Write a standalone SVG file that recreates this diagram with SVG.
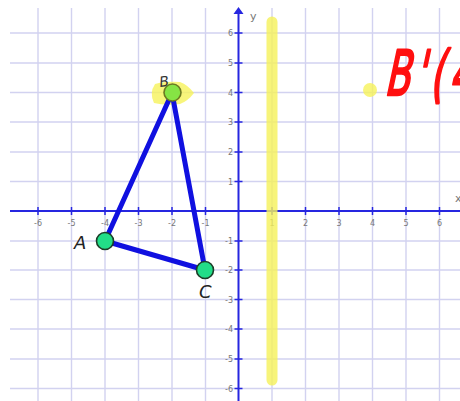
<svg xmlns="http://www.w3.org/2000/svg" width="460" height="401" viewBox="0 0 460 401">
<defs>
<style>
.grid line{stroke:#d2d2f0;stroke-width:1.4}
.axis{stroke:#2626e0;stroke-width:2}
.tick{stroke:#2626e0;stroke-width:1.5}
.tl{font-family:"DejaVu Sans",sans-serif;font-size:8px;fill:#777}
.edge{stroke:#1010e0;stroke-width:5;stroke-linecap:round}
.pt{fill:#22dd88;stroke:#1c3d28;stroke-width:1.6}
.lbl{font-family:"DejaVu Sans",sans-serif;font-size:18px;fill:#222;font-style:italic}
.hl{fill:#f6f25a;opacity:0.8}
</style>
</defs>
<rect width="460" height="401" fill="#fff"/>
<g class="grid">
<line x1="38" y1="8" x2="38" y2="401"/>
<line x1="71.5" y1="8" x2="71.5" y2="401"/>
<line x1="105" y1="8" x2="105" y2="401"/>
<line x1="138.5" y1="8" x2="138.5" y2="401"/>
<line x1="172" y1="8" x2="172" y2="401"/>
<line x1="205.5" y1="8" x2="205.5" y2="401"/>
<line x1="272" y1="8" x2="272" y2="401"/>
<line x1="305.5" y1="8" x2="305.5" y2="401"/>
<line x1="339" y1="8" x2="339" y2="401"/>
<line x1="372.5" y1="8" x2="372.5" y2="401"/>
<line x1="406" y1="8" x2="406" y2="401"/>
<line x1="439.5" y1="8" x2="439.5" y2="401"/>
<line x1="10" y1="33" x2="460" y2="33"/>
<line x1="10" y1="63" x2="460" y2="63"/>
<line x1="10" y1="92.5" x2="460" y2="92.5"/>
<line x1="10" y1="122" x2="460" y2="122"/>
<line x1="10" y1="152" x2="460" y2="152"/>
<line x1="10" y1="181.5" x2="460" y2="181.5"/>
<line x1="10" y1="241" x2="460" y2="241"/>
<line x1="10" y1="270" x2="460" y2="270"/>
<line x1="10" y1="299.5" x2="460" y2="299.5"/>
<line x1="10" y1="329" x2="460" y2="329"/>
<line x1="10" y1="359" x2="460" y2="359"/>
<line x1="10" y1="388.5" x2="460" y2="388.5"/>
</g>
<g id="axes">
<line class="axis" x1="10" y1="211" x2="460" y2="211"/>
<line class="axis" x1="238.5" y1="12" x2="238.5" y2="401"/>
<path d="M233.5 14 L238.5 7 L243.5 14 Z" fill="#2626e0"/>
<g class="tick">
<line x1="38" y1="207" x2="38" y2="215"/><line x1="71.5" y1="207" x2="71.5" y2="215"/><line x1="105" y1="207" x2="105" y2="215"/><line x1="138.5" y1="207" x2="138.5" y2="215"/><line x1="172" y1="207" x2="172" y2="215"/><line x1="205.5" y1="207" x2="205.5" y2="215"/>
<line x1="272" y1="207" x2="272" y2="215"/><line x1="305.5" y1="207" x2="305.5" y2="215"/><line x1="339" y1="207" x2="339" y2="215"/><line x1="372.5" y1="207" x2="372.5" y2="215"/><line x1="406" y1="207" x2="406" y2="215"/><line x1="439.5" y1="207" x2="439.5" y2="215"/>
<line x1="234.5" y1="33" x2="242.5" y2="33"/><line x1="234.5" y1="63" x2="242.5" y2="63"/><line x1="234.5" y1="92.5" x2="242.5" y2="92.5"/><line x1="234.5" y1="122" x2="242.5" y2="122"/><line x1="234.5" y1="152" x2="242.5" y2="152"/><line x1="234.5" y1="181.5" x2="242.5" y2="181.5"/>
<line x1="234.5" y1="241" x2="242.5" y2="241"/><line x1="234.5" y1="270" x2="242.5" y2="270"/><line x1="234.5" y1="299.5" x2="242.5" y2="299.5"/><line x1="234.5" y1="329" x2="242.5" y2="329"/><line x1="234.5" y1="359" x2="242.5" y2="359"/><line x1="234.5" y1="388.5" x2="242.5" y2="388.5"/>
</g>
<g class="tl" text-anchor="middle">
<text x="38" y="226">-6</text><text x="71.5" y="226">-5</text><text x="105" y="226">-4</text><text x="138.5" y="226">-3</text><text x="172" y="226">-2</text><text x="205.5" y="226">-1</text>
<text x="272" y="226">1</text><text x="305.5" y="226">2</text><text x="339" y="226">3</text><text x="372.5" y="226">4</text><text x="406" y="226">5</text><text x="439.5" y="226">6</text>
</g>
<g class="tl" text-anchor="end">
<text x="233" y="36">6</text><text x="233" y="66">5</text><text x="233" y="95.5">4</text><text x="233" y="125">3</text><text x="233" y="155">2</text><text x="233" y="184.5">1</text>
<text x="233" y="244">-1</text><text x="233" y="273">-2</text><text x="233" y="302.5">-3</text><text x="233" y="332">-4</text><text x="233" y="362">-5</text><text x="233" y="391.5">-6</text>
</g>
<text x="250" y="20" font-family="DejaVu Sans,sans-serif" font-size="11" fill="#777">y</text>
<text x="455" y="202" font-family="DejaVu Sans,sans-serif" font-size="11" fill="#777">x</text>
</g>
<g id="highlights">
<line x1="272" y1="22" x2="272" y2="380" stroke="#f6f25a" stroke-width="11" stroke-linecap="round" opacity="0.8"/>
<circle class="hl" cx="370" cy="90" r="7"/>
<path class="hl" d="M155 84 Q165 81 180 82 Q188 85 194 93 Q188 101 180 104 Q165 106 154 103 Q149 93 155 84 Z"/>
</g>
<g id="connectors">
<line class="edge" x1="105" y1="241" x2="172" y2="93"/>
<line class="edge" x1="172" y1="93" x2="205" y2="270"/>
<line class="edge" x1="105" y1="241" x2="205" y2="270"/>
</g>
<g id="node-A">
<circle class="pt" cx="105" cy="241" r="8.5"/>
<text class="lbl" x="74" y="249">A</text>
</g>
<g id="node-B">
<circle cx="172.5" cy="92.5" r="8.5" fill="#86e444" stroke="#6c7a22" stroke-width="1.6"/>
<text x="159" y="86" font-family="DejaVu Sans,sans-serif" font-size="14" fill="#333" font-style="italic" transform="rotate(-8 166 80)">B</text>
</g>
<g id="node-C">
<circle class="pt" cx="205" cy="270" r="8.5"/>
<text class="lbl" x="199" y="298">C</text>
</g>
<g id="note">
<text font-family="DejaVu Sans,sans-serif" font-size="62" fill="#ff1010" stroke="#ff1010" stroke-width="2.5" stroke-linejoin="round" letter-spacing="8" transform="translate(384 95) skewX(-12) scale(0.6 1)">B'(4</text>
</g>
</svg>
